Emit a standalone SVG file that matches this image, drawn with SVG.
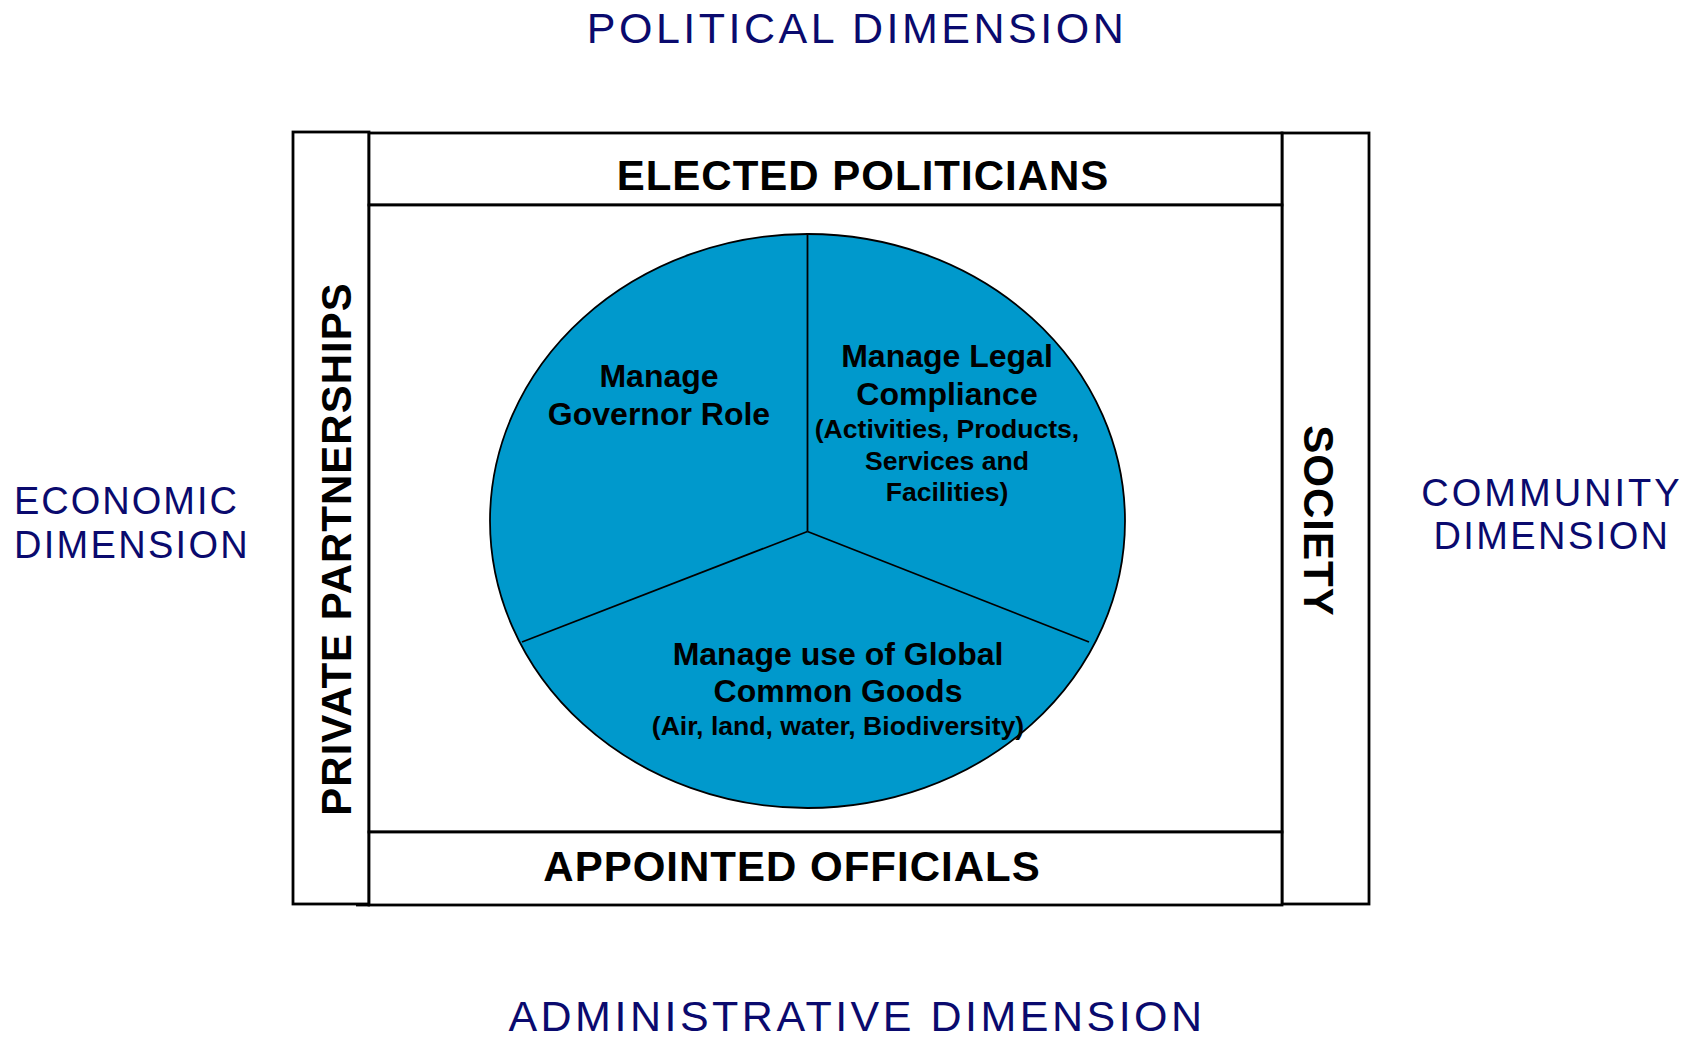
<svg xmlns="http://www.w3.org/2000/svg" width="1701" height="1038" viewBox="0 0 1701 1038">
<style>
.frame{fill:#ffffff;stroke:#000;stroke-width:2.8}
.dim{font-family:"Liberation Sans",Arial,sans-serif;fill:#0A0A6E}
.band{font-family:"Liberation Sans",Arial,sans-serif;font-weight:bold;fill:#000;font-size:42px;letter-spacing:1px}
.pt{font-family:"Liberation Sans",Arial,sans-serif;font-weight:bold;fill:#000;text-anchor:middle}
.h{font-size:32px}
.s{font-size:26.6px}
.div{stroke:#000;stroke-width:1.8;fill:none}
</style>
<rect width="1701" height="1038" fill="#fff"/>
<g id="dimensions">
<text class="dim" x="857" y="43" font-size="43" letter-spacing="3.5" text-anchor="middle">POLITICAL DIMENSION</text>
<text class="dim" x="857" y="1031" font-size="43" letter-spacing="3.5" text-anchor="middle">ADMINISTRATIVE DIMENSION</text>
<text class="dim" x="14" y="514" font-size="38" letter-spacing="2">ECONOMIC</text>
<text class="dim" x="14" y="558" font-size="38" letter-spacing="2.3">DIMENSION</text>
<text class="dim" x="1552" y="506" font-size="38" letter-spacing="3" text-anchor="middle">COMMUNITY</text>
<text class="dim" x="1552" y="549" font-size="38" letter-spacing="2.4" text-anchor="middle">DIMENSION</text>
</g>
<g id="private-partnerships">
<rect class="frame" x="293" y="132" width="76" height="772"/>
<text class="band" transform="translate(351,549) rotate(-90)" text-anchor="middle" font-size="43" letter-spacing="0.4">PRIVATE PARTNERSHIPS</text>
</g>
<g id="society">
<rect class="frame" x="1282" y="133" width="87" height="771"/>
<text class="band" transform="translate(1304,521) rotate(90)" text-anchor="middle">SOCIETY</text>
</g>
<g id="elected-politicians">
<rect class="frame" x="369" y="133" width="913" height="72"/>
<text class="band" x="863" y="190" text-anchor="middle">ELECTED POLITICIANS</text>
</g>
<g id="centre">
<rect class="frame" x="369" y="205" width="913" height="627"/>
</g>
<g id="appointed-officials">
<rect class="frame" x="369" y="832" width="913" height="73"/>
<line x1="356" y1="905" x2="370" y2="905" stroke="#000" stroke-width="2.8"/>
<text class="band" x="792" y="881" text-anchor="middle" letter-spacing="1.3">APPOINTED OFFICIALS</text>
</g>
<g id="pie">
<ellipse cx="807.5" cy="521" rx="317.5" ry="287" fill="#0099CC" stroke="#000" stroke-width="1.8"/>
</g>
<g id="connectors">
<line class="div" x1="807.5" y1="234" x2="807.5" y2="531.5"/>
<line class="div" x1="807.5" y1="531.5" x2="522" y2="642"/>
<line class="div" x1="807.5" y1="531.5" x2="1089" y2="642"/>
</g>
<g id="governor">
<text class="pt h" x="659" y="387">Manage</text>
<text class="pt h" x="659" y="425">Governor Role</text>
</g>
<g id="legal">
<text class="pt h" x="947" y="367">Manage Legal</text>
<text class="pt h" x="947" y="405">Compliance</text>
<text class="pt s" x="947" y="438">(Activities, Products,</text>
<text class="pt s" x="947" y="470">Services and</text>
<text class="pt s" x="947" y="501">Facilities)</text>
</g>
<g id="commons">
<text class="pt h" x="838" y="665">Manage use of Global</text>
<text class="pt h" x="838" y="702">Common Goods</text>
<text class="pt s" x="838" y="735">(Air, land, water, Biodiversity)</text>
</g>
</svg>
